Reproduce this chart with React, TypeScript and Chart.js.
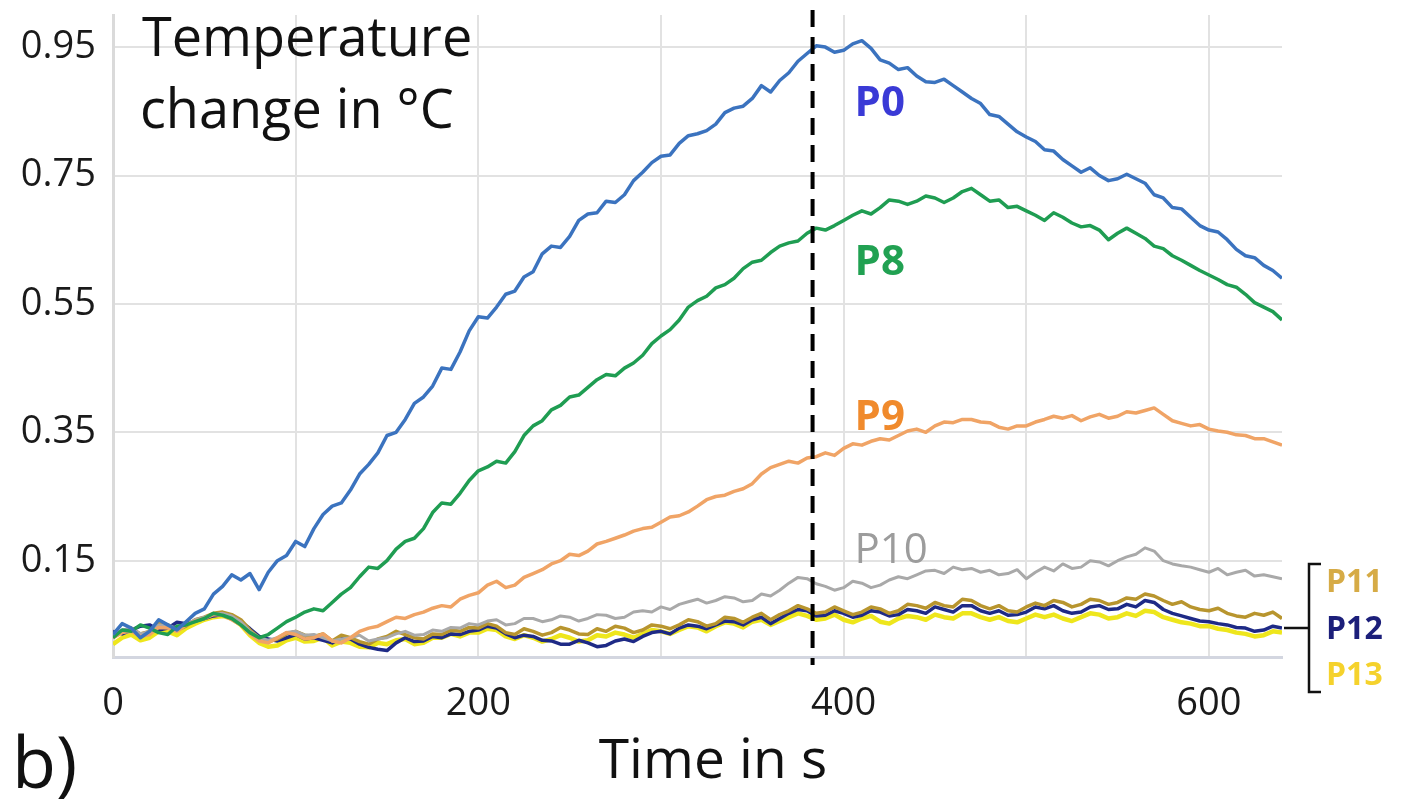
import React, { useEffect, useRef } from "react";
import { Chart, registerables } from "chart.js";

Chart.register(...registerables);

// Time axis (s)
const TIMES = [
  0, 5, 10, 15, 20, 25, 30, 35, 40, 45,
  50, 55, 60, 65, 70, 75, 80, 85, 90, 95,
  100, 105, 110, 115, 120, 125, 130, 135, 140, 145,
  150, 155, 160, 165, 170, 175, 180, 185, 190, 195,
  200, 205, 210, 215, 220, 225, 230, 235, 240, 245,
  250, 255, 260, 265, 270, 275, 280, 285, 290, 295,
  300, 305, 310, 315, 320, 325, 330, 335, 340, 345,
  350, 355, 360, 365, 370, 375, 380, 385, 390, 395,
  400, 405, 410, 415, 420, 425, 430, 435, 440, 445,
  450, 455, 460, 465, 470, 475, 480, 485, 490, 495,
  500, 505, 510, 515, 520, 525, 530, 535, 540, 545,
  550, 555, 560, 565, 570, 575, 580, 585, 590, 595,
  600, 605, 610, 615, 620, 625, 630, 635, 640,
];

const P0 = [
  0.035, 0.052, 0.045, 0.030, 0.040, 0.058, 0.050, 0.042, 0.055, 0.068,
  0.075, 0.098, 0.110, 0.128, 0.120, 0.130, 0.105, 0.132, 0.150, 0.158,
  0.180, 0.172, 0.200, 0.222, 0.235, 0.240, 0.260, 0.285, 0.300, 0.318,
  0.345, 0.350, 0.370, 0.395, 0.405, 0.422, 0.450, 0.448, 0.475, 0.508,
  0.530, 0.528, 0.545, 0.565, 0.570, 0.592, 0.600, 0.628, 0.640, 0.638,
  0.655, 0.680, 0.690, 0.692, 0.710, 0.708, 0.720, 0.742, 0.755, 0.770,
  0.780, 0.782, 0.800, 0.812, 0.815, 0.820, 0.830, 0.848, 0.855, 0.858,
  0.870, 0.890, 0.880, 0.898, 0.910, 0.928, 0.940, 0.952, 0.950, 0.942,
  0.945, 0.955, 0.960, 0.948, 0.930, 0.925, 0.915, 0.918, 0.905, 0.896,
  0.895, 0.900, 0.890, 0.880, 0.870, 0.862, 0.845, 0.842, 0.830, 0.818,
  0.810, 0.803, 0.790, 0.788, 0.775, 0.765, 0.755, 0.762, 0.750, 0.742,
  0.745, 0.752, 0.745, 0.738, 0.720, 0.715, 0.700, 0.698, 0.685, 0.672,
  0.665, 0.662, 0.650, 0.635, 0.625, 0.622, 0.610, 0.602, 0.590,
];

const P8 = [
  0.030, 0.042, 0.040, 0.050, 0.045, 0.038, 0.035, 0.048, 0.050, 0.055,
  0.060, 0.068, 0.065, 0.060, 0.050, 0.038, 0.030, 0.035, 0.045, 0.055,
  0.062, 0.070, 0.075, 0.072, 0.085, 0.098, 0.108, 0.125, 0.140, 0.138,
  0.150, 0.168, 0.180, 0.185, 0.200, 0.225, 0.240, 0.238, 0.255, 0.275,
  0.290, 0.296, 0.305, 0.302, 0.320, 0.345, 0.360, 0.368, 0.385, 0.392,
  0.405, 0.408, 0.420, 0.432, 0.440, 0.438, 0.450, 0.458, 0.470, 0.488,
  0.500, 0.510, 0.525, 0.545, 0.555, 0.562, 0.575, 0.580, 0.590, 0.605,
  0.615, 0.618, 0.630, 0.640, 0.645, 0.648, 0.660, 0.668, 0.665, 0.672,
  0.680, 0.688, 0.695, 0.690, 0.700, 0.712, 0.710, 0.705, 0.710, 0.718,
  0.715, 0.708, 0.715, 0.725, 0.730, 0.720, 0.710, 0.712, 0.700, 0.702,
  0.695, 0.688, 0.680, 0.692, 0.685, 0.676, 0.670, 0.672, 0.665, 0.650,
  0.660, 0.668, 0.660, 0.652, 0.640, 0.636, 0.625, 0.618, 0.610, 0.602,
  0.595, 0.588, 0.580, 0.576, 0.565, 0.552, 0.545, 0.538, 0.525,
];

const P9 = [
  0.030, 0.038, 0.040, 0.032, 0.035, 0.046, 0.045, 0.040, 0.050, 0.056,
  0.060, 0.066, 0.065, 0.058, 0.050, 0.036, 0.025, 0.022, 0.030, 0.038,
  0.035, 0.028, 0.030, 0.036, 0.025, 0.022, 0.030, 0.040, 0.045, 0.048,
  0.055, 0.062, 0.060, 0.066, 0.070, 0.076, 0.080, 0.078, 0.090, 0.096,
  0.100, 0.112, 0.118, 0.108, 0.112, 0.124, 0.130, 0.136, 0.145, 0.150,
  0.160, 0.158, 0.165, 0.176, 0.180, 0.185, 0.190, 0.196, 0.200, 0.202,
  0.210, 0.218, 0.220, 0.226, 0.235, 0.245, 0.250, 0.252, 0.258, 0.262,
  0.270, 0.285, 0.295, 0.300, 0.305, 0.302, 0.310, 0.312, 0.318, 0.314,
  0.325, 0.332, 0.330, 0.336, 0.340, 0.338, 0.345, 0.352, 0.355, 0.350,
  0.360, 0.366, 0.365, 0.370, 0.370, 0.366, 0.365, 0.358, 0.355, 0.360,
  0.360, 0.366, 0.370, 0.375, 0.372, 0.376, 0.368, 0.374, 0.378, 0.372,
  0.375, 0.382, 0.380, 0.384, 0.388, 0.378, 0.368, 0.364, 0.360, 0.362,
  0.355, 0.352, 0.350, 0.346, 0.345, 0.340, 0.340, 0.335, 0.330,
];

const P10 = [
  0.035, 0.042, 0.045, 0.036, 0.040, 0.050, 0.050, 0.044, 0.050, 0.058,
  0.062, 0.066, 0.068, 0.064, 0.055, 0.040, 0.030, 0.026, 0.030, 0.038,
  0.040, 0.034, 0.035, 0.030, 0.025, 0.028, 0.030, 0.034, 0.025, 0.028,
  0.030, 0.036, 0.040, 0.034, 0.035, 0.042, 0.040, 0.046, 0.045, 0.052,
  0.050, 0.056, 0.058, 0.050, 0.052, 0.060, 0.060, 0.055, 0.058, 0.064,
  0.062, 0.056, 0.060, 0.066, 0.065, 0.060, 0.062, 0.070, 0.072, 0.070,
  0.078, 0.074, 0.082, 0.086, 0.090, 0.084, 0.088, 0.094, 0.092, 0.086,
  0.088, 0.098, 0.095, 0.104, 0.115, 0.124, 0.122, 0.114, 0.110, 0.104,
  0.108, 0.118, 0.115, 0.108, 0.112, 0.120, 0.125, 0.122, 0.128, 0.134,
  0.135, 0.130, 0.140, 0.136, 0.138, 0.132, 0.135, 0.128, 0.130, 0.136,
  0.122, 0.132, 0.140, 0.134, 0.145, 0.138, 0.140, 0.150, 0.148, 0.142,
  0.150, 0.156, 0.160, 0.170, 0.165, 0.150, 0.145, 0.142, 0.140, 0.136,
  0.132, 0.138, 0.128, 0.132, 0.135, 0.126, 0.128, 0.125, 0.122,
];

const P11 = [
  0.030, 0.040, 0.045, 0.036, 0.040, 0.052, 0.050, 0.042, 0.048, 0.058,
  0.062, 0.068, 0.070, 0.066, 0.058, 0.042, 0.030, 0.024, 0.028, 0.036,
  0.040, 0.034, 0.032, 0.036, 0.025, 0.034, 0.030, 0.024, 0.020, 0.028,
  0.032, 0.040, 0.035, 0.030, 0.028, 0.036, 0.035, 0.042, 0.040, 0.046,
  0.045, 0.052, 0.048, 0.038, 0.035, 0.044, 0.040, 0.034, 0.038, 0.046,
  0.042, 0.036, 0.035, 0.044, 0.040, 0.048, 0.045, 0.038, 0.042, 0.050,
  0.048, 0.044, 0.050, 0.058, 0.055, 0.048, 0.052, 0.062, 0.060, 0.054,
  0.062, 0.068, 0.058, 0.066, 0.072, 0.080, 0.075, 0.068, 0.070, 0.078,
  0.072, 0.066, 0.070, 0.078, 0.075, 0.068, 0.072, 0.082, 0.080, 0.076,
  0.085, 0.080, 0.078, 0.090, 0.088, 0.080, 0.075, 0.080, 0.072, 0.070,
  0.078, 0.084, 0.080, 0.088, 0.085, 0.078, 0.082, 0.090, 0.088, 0.082,
  0.085, 0.092, 0.090, 0.098, 0.095, 0.088, 0.082, 0.086, 0.078, 0.074,
  0.072, 0.076, 0.068, 0.064, 0.062, 0.068, 0.065, 0.070, 0.060,
];

const P12 = [
  0.040, 0.036, 0.042, 0.048, 0.050, 0.042, 0.045, 0.054, 0.052, 0.056,
  0.060, 0.064, 0.066, 0.062, 0.055, 0.044, 0.032, 0.028, 0.025, 0.030,
  0.035, 0.028, 0.030, 0.026, 0.022, 0.030, 0.028, 0.020, 0.015, 0.012,
  0.010, 0.022, 0.030, 0.024, 0.025, 0.032, 0.030, 0.036, 0.035, 0.040,
  0.042, 0.048, 0.045, 0.036, 0.030, 0.034, 0.032, 0.026, 0.025, 0.020,
  0.020, 0.026, 0.022, 0.016, 0.018, 0.025, 0.028, 0.024, 0.032, 0.038,
  0.040, 0.036, 0.045, 0.050, 0.048, 0.044, 0.050, 0.056, 0.055, 0.050,
  0.058, 0.062, 0.052, 0.060, 0.068, 0.074, 0.072, 0.064, 0.065, 0.072,
  0.068, 0.062, 0.065, 0.072, 0.070, 0.064, 0.066, 0.074, 0.072, 0.068,
  0.078, 0.074, 0.070, 0.080, 0.080, 0.072, 0.068, 0.072, 0.065, 0.066,
  0.070, 0.078, 0.075, 0.080, 0.072, 0.068, 0.070, 0.078, 0.080, 0.074,
  0.075, 0.082, 0.078, 0.088, 0.085, 0.074, 0.068, 0.064, 0.060, 0.056,
  0.055, 0.052, 0.050, 0.046, 0.045, 0.040, 0.042, 0.048, 0.045,
];

const P13 = [
  0.020, 0.030, 0.035, 0.026, 0.030, 0.040, 0.040, 0.034, 0.045, 0.052,
  0.058, 0.062, 0.064, 0.060, 0.050, 0.034, 0.022, 0.016, 0.018, 0.026,
  0.030, 0.024, 0.025, 0.030, 0.018, 0.024, 0.022, 0.016, 0.015, 0.022,
  0.020, 0.026, 0.028, 0.020, 0.022, 0.030, 0.030, 0.036, 0.032, 0.038,
  0.038, 0.044, 0.042, 0.032, 0.028, 0.034, 0.030, 0.024, 0.028, 0.034,
  0.030, 0.024, 0.026, 0.034, 0.032, 0.038, 0.035, 0.030, 0.036, 0.042,
  0.040, 0.036, 0.042, 0.048, 0.046, 0.040, 0.048, 0.054, 0.052, 0.046,
  0.055, 0.058, 0.050, 0.056, 0.062, 0.068, 0.064, 0.058, 0.060, 0.066,
  0.058, 0.054, 0.060, 0.064, 0.055, 0.052, 0.060, 0.064, 0.062, 0.058,
  0.066, 0.062, 0.060, 0.068, 0.068, 0.062, 0.058, 0.062, 0.056, 0.054,
  0.060, 0.066, 0.062, 0.066, 0.060, 0.056, 0.062, 0.068, 0.066, 0.060,
  0.062, 0.068, 0.064, 0.072, 0.070, 0.062, 0.058, 0.054, 0.052, 0.048,
  0.048, 0.044, 0.042, 0.038, 0.036, 0.032, 0.034, 0.040, 0.038,
];

const Y_TICKS = [0.15, 0.35, 0.55, 0.75, 0.95];
const X_GRID = [0, 100, 200, 300, 400, 500, 600];
const X_LABELED = [0, 200, 400, 600];
const MARK_TIME = 383;

const FONT = '"Open Sans", "DejaVu Sans", sans-serif';

const SERIES = [
  { name: "P0", values: P0, color: "#3b73bf", width: 3.5 },
  { name: "P8", values: P8, color: "#1f9d52", width: 3.5 },
  { name: "P9", values: P9, color: "#f0a466", width: 3.5 },
  { name: "P10", values: P10, color: "#a9a9a9", width: 3 },
  { name: "P11", values: P11, color: "#b8952e", width: 3.5 },
  { name: "P12", values: P12, color: "#1e2a86", width: 3.5 },
  { name: "P13", values: P13, color: "#eee61c", width: 4.5 },
];

const overlay = {
  id: "overlay",
  afterDatasetsDraw(chart: any) {
    const { ctx, chartArea, scales } = chart;
    const xs = scales.x;
    ctx.save();

    // dashed marker line
    const dx = xs.getPixelForValue(MARK_TIME);
    ctx.strokeStyle = "#000";
    ctx.lineWidth = 4;
    ctx.setLineDash([17, 10]);
    ctx.beginPath();
    ctx.moveTo(dx, chartArea.top - 5);
    ctx.lineTo(dx, chartArea.bottom + 8);
    ctx.stroke();
    ctx.setLineDash([]);

    // title inside plot
    ctx.fillStyle = "#111";
    ctx.textAlign = "left";
    ctx.textBaseline = "alphabetic";
    ctx.font = `54px ${FONT}`;
    ctx.fillText("Temperature", 142, 56);
    ctx.fillText("change in °C", 140, 128);

    // series labels
    const lx = xs.getPixelForValue(406);
    ctx.font = `bold 42px ${FONT}`;
    ctx.fillStyle = "#3a3ad6";
    ctx.fillText("P0", lx, 116);
    ctx.fillStyle = "#21a152";
    ctx.fillText("P8", lx, 275);
    ctx.fillStyle = "#f08a2c";
    ctx.fillText("P9", lx, 430);
    ctx.font = `42px ${FONT}`;
    ctx.fillStyle = "#9c9c9c";
    ctx.fillText("P10", lx, 563);

    // bracket
    const bx = chartArea.right + 27;
    const midY = 628;
    ctx.strokeStyle = "#111";
    ctx.lineWidth = 2.5;
    ctx.beginPath();
    ctx.moveTo(chartArea.right + 2, midY);
    ctx.lineTo(bx, midY);
    ctx.moveTo(bx + 12, 564);
    ctx.lineTo(bx, 564);
    ctx.lineTo(bx, 692);
    ctx.lineTo(bx + 12, 692);
    ctx.stroke();

    ctx.font = `bold 32px ${FONT}`;
    ctx.fillStyle = "#d6ab46";
    ctx.fillText("P11", bx + 17, 592);
    ctx.fillStyle = "#1c1f7a";
    ctx.fillText("P12", bx + 17, 639);
    ctx.fillStyle = "#f5d22c";
    ctx.fillText("P13", bx + 17, 685);

    // axis title
    ctx.fillStyle = "#111";
    ctx.font = `55px ${FONT}`;
    ctx.textAlign = "center";
    ctx.fillText("Time in s", 713, 778);

    // panel letter
    ctx.textAlign = "left";
    ctx.font = `72px ${FONT}`;
    ctx.fillText("b)", 12, 788);

    ctx.restore();
  },
};

export default function App() {
  const ref = useRef<HTMLCanvasElement | null>(null);

  useEffect(() => {
    if (!ref.current) return;
    const datasets = SERIES.map((s) => ({
      label: s.name,
      data: TIMES.map((t, i) => ({ x: t, y: s.values[i] })),
      borderColor: s.color,
      backgroundColor: s.color,
      borderWidth: s.width,
      borderJoinStyle: "round" as const,
      pointRadius: 0,
      tension: 0,
      fill: false,
    }));

    const chart = new Chart(ref.current, {
      type: "line",
      data: { datasets },
      options: {
        responsive: false,
        animation: false,
        events: [],
        layout: { padding: { top: 15, right: 124, left: 0, bottom: 0 } },
        plugins: {
          legend: { display: false },
          tooltip: { enabled: false },
          title: { display: false },
        },
        scales: {
          x: {
            type: "linear",
            min: 0,
            max: 640,
            afterBuildTicks: (scale: any) => {
              scale.ticks = X_GRID.map((v) => ({ value: v }));
            },
            afterFit: (scale: any) => {
              scale.height = 153;
              scale.paddingLeft = 0;
              scale.paddingRight = 0;
            },
            grid: { color: "#e2e2e2", lineWidth: 2, drawTicks: false },
            border: { display: true, color: "#d3d6e0", width: 3 },
            ticks: {
              padding: 24,
              maxRotation: 0,
              autoSkip: false,
              color: "#1a1a1a",
              font: { family: FONT, size: 38 },
              callback: (v: any) => (X_LABELED.includes(Number(v)) ? String(v) : ""),
            },
          },
          y: {
            type: "linear",
            min: 0,
            max: 1.0,
            afterBuildTicks: (scale: any) => {
              scale.ticks = Y_TICKS.map((v) => ({ value: v }));
            },
            afterFit: (scale: any) => {
              scale.width = 113;
              scale.paddingTop = 0;
              scale.paddingBottom = 0;
            },
            grid: { color: "#e2e2e2", lineWidth: 2, drawTicks: false },
            border: { display: true, color: "#dadada", width: 3 },
            ticks: {
              padding: 17,
              color: "#1a1a1a",
              font: { family: FONT, size: 38 },
              callback: (v: any) => Number(v).toFixed(2),
            },
          },
        },
      },
      plugins: [overlay],
    });
    return () => chart.destroy();
  }, []);

  return (
    <div style={{ position: "absolute", left: 0, top: 0, width: 1406, height: 810, background: "#fff" }}>
      <canvas ref={ref} width={1406} height={810} />
    </div>
  );
}
